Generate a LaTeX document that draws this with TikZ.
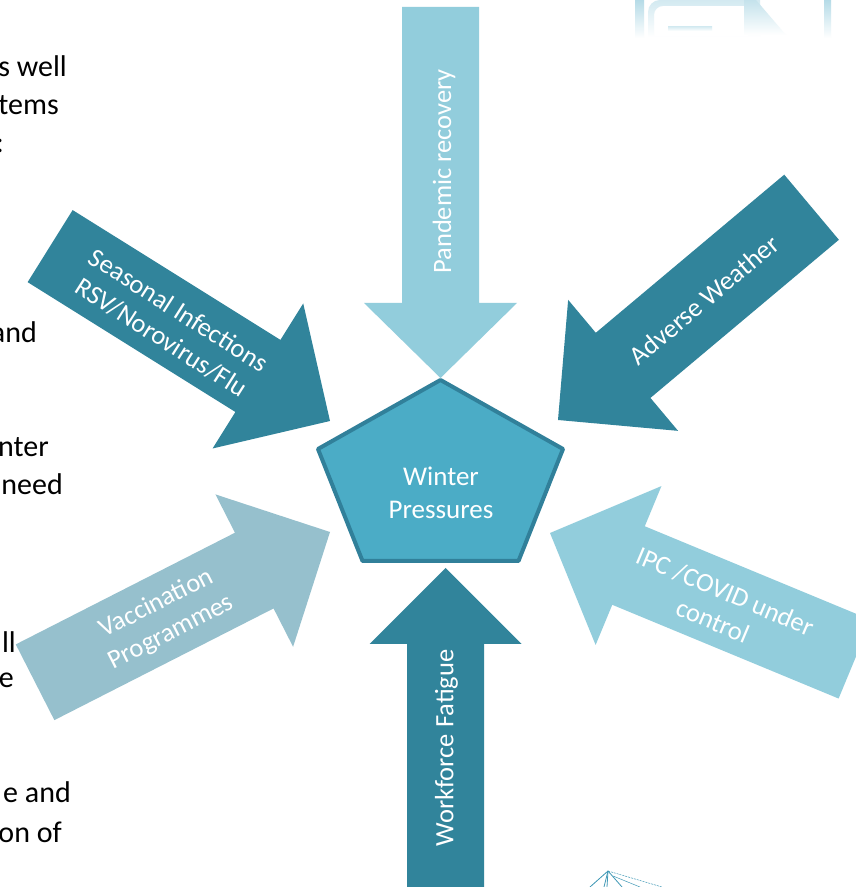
\documentclass[tikz,border=0pt]{standalone}
\usepackage{fontspec}
\setmainfont{Carlito}

\definecolor{arrowdark}{HTML}{31849B}
\definecolor{arrowlight}{HTML}{92CDDC}
\definecolor{arrowgrey}{HTML}{96C0CD}
\definecolor{pentfill}{HTML}{4BACC6}
\definecolor{pentline}{HTML}{31809A}
\definecolor{faintblue}{HTML}{B5DBE7}
\definecolor{cranec}{HTML}{3F98B6}

% block arrow: tip x, tip y, pointing direction, total length,
% shaft width, head width, head length, colour
\newcommand\fatarrow[8]{%
  \fill[#8, shift={(#1,#2)}, rotate=#3]
    (0,0) -- (-#7,#6/2) -- (-#7,#5/2) -- (-#4,#5/2)
    -- (-#4,-#5/2) -- (-#7,-#5/2) -- (-#7,-#6/2) -- cycle;}

\tikzset{
  lbl/.style={text=white, font=\fontsize{26.5}{32}\selectfont,
              align=center, inner sep=0pt},
  side/.style={text=black, font=\fontsize{30}{38}\selectfont,
               inner sep=0pt, anchor=base east},
}

\begin{document}
\begin{tikzpicture}[x=1pt, y=1pt]
\useasboundingbox (0,0) rectangle (856,887);
\fill[white] (0,0) rectangle (856,887);
\clip (0,0) rectangle (856,887);

% faded document icon, top right
\shade[top color=faintblue, bottom color=white] (635,887) rectangle (644,849);
\shade[top color=faintblue, bottom color=white] (824,887) rectangle (831,849);
\shade[top color=faintblue!60, bottom color=white, even odd rule]
  (648,850) -- (648,875) arc[start angle=180, end angle=90, radius=12] -- (760,887) -- (760,850) -- cycle
  (654,850) -- (654,872) arc[start angle=180, end angle=90, radius=9] -- (748,881) -- (748,850) -- cycle;
\shade[top color=faintblue!50, bottom color=white] (668,860) rectangle (712,856);
\shade[top color=faintblue!80, bottom color=white] (744,887) -- (756,887) -- (786,852) -- (744,852) -- cycle;

% left-hand text running in from the page edge
\node[side] (t1) at (67,810) {s well};
\node[side] (t2) at (59,772) {tems};
\node[side] (t3) at (4,734) {:};
\node[side] (t4) at (37,544) {and};
\node[side] (t5) at (49,430) {nter};
\node[side] (t6) at (63,392) {need};
\node[side] (t7) at (16,234) {ll};
\node[side] (t8) at (14,199) {e};
\node[side] (t9) at (71,84) {e and};
\node[side] (t10) at (62,45) {on of};

% the six pressures pointing inwards
\fatarrow{440.5}{509}{-90}{371}{77}{153}{75}{arrowlight}
\fatarrow{445.5}{319}{90}{330}{77}{152}{76}{arrowdark}
\fatarrow{330}{466}{-32}{330}{85}{171}{85}{arrowdark}
\fatarrow{558}{467}{220}{331}{85}{171}{85}{arrowdark}
\fatarrow{330}{355}{27}{331}{85}{171}{85}{arrowgrey}
\fatarrow{550}{354}{157.5}{330}{85}{172}{85}{arrowlight}

\node[lbl, rotate=90] (pandemic) at (444,715.5) {Pandemic recovery};
\node[lbl, rotate=90] (workforce) at (446.5,139) {Workforce Fatigue};
\node[lbl, rotate=-32.5] (seasonal) at (170,563)
  {Seasonal Infections\\RSV/Norovirus/Flu};
\node[lbl, rotate=40] (weather) at (704,587) {Adverse Weather};
\node[lbl, rotate=27] (vaccine) at (164,269) {Vaccination\\Programmes};
\node[lbl, rotate=-23] (ipc) at (719,281) {IPC /COVID under\\control};

% central pentagon
\draw[pentline, fill=pentfill, line width=4pt, line join=round]
  (440.5,507) -- (563,438) -- (518.5,326) -- (362.5,326) -- (318,438) -- cycle;
\node[text=white, font=\fontsize{27}{33}\selectfont, align=center, inner sep=0pt]
  (core) at (441,394.5) {Winter\\Pressures};

% crane sketch, bottom right
\begin{scope}[cranec, line width=0.8pt]
  \coordinate (apex) at (608,16);
  \draw (apex) -- (590,0);
  \draw (apex) -- (604,0);
  \draw (apex) -- (607,0);
  \draw (apex) -- (622,0);
  \draw[line width=0.5pt, dash pattern=on 2pt off 1pt] (apex) -- (662,0);
  \draw[line width=0.5pt] (613,11) -- (640,0);
\end{scope}
\end{tikzpicture}
\end{document}
